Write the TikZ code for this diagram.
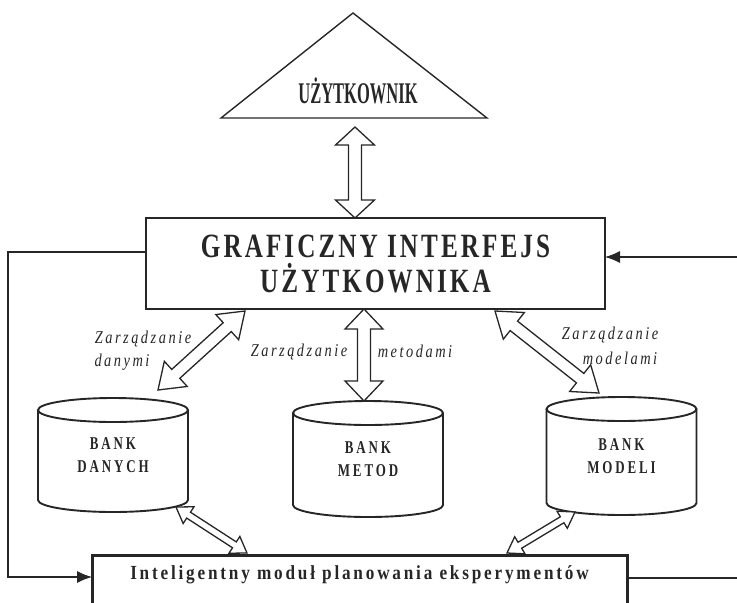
\documentclass[tikz,border=0pt]{standalone}
\usepackage{fontspec}
\setmainfont{Liberation Serif}
\newfontfamily\guifont[FakeStretch=0.74,LetterSpace=9]{Liberation Serif}
\newfontfamily\userfont[FakeStretch=0.55]{Liberation Serif}
\newfontfamily\bankfont[FakeStretch=0.72,LetterSpace=16]{Liberation Serif}
\newfontfamily\modfont[FakeStretch=0.86,LetterSpace=14]{Liberation Serif}
\newfontfamily\itfont[FakeStretch=0.8,LetterSpace=14]{Liberation Serif}
\usetikzlibrary{calc,arrows.meta}
\definecolor{ink}{HTML}{262626}
\newcommand{\cylshape}[1]{%
  \draw[cyl] (#1.north west) -- (#1.south west)
    arc[start angle=180,end angle=360,x radius=75pt,y radius=12pt] -- (#1.north east);
  \draw[cyl] (#1.north) ellipse[x radius=75pt,y radius=12pt];}
% #1 from, #2 to, #3 shaft half width, #4 head half width, #5 head length
\newcommand{\dbarrow}[5]{%
  \draw[blk] (#1) -- ($(#1)!#5!(#2)!#4!90:(#2)$) -- ($(#1)!#5!(#2)!#3!90:(#2)$)
    -- ($(#2)!#5!(#1)!#3!-90:(#1)$) -- ($(#2)!#5!(#1)!#4!-90:(#1)$) -- (#2)
    -- ($(#2)!#5!(#1)!#4!90:(#1)$) -- ($(#2)!#5!(#1)!#3!90:(#1)$)
    -- ($(#1)!#5!(#2)!#3!-90:(#2)$) -- ($(#1)!#5!(#2)!#4!-90:(#2)$) -- cycle;}
\begin{document}
\begin{tikzpicture}[x=1pt,y=-1pt,
  every node/.style={inner sep=0pt,outer sep=0pt,text=ink},
  boxline/.style={draw=ink,line width=1.4pt},
  cyl/.style={draw=ink,line width=1.9pt},
  blk/.style={draw=ink,line width=1.3pt,fill=white,line join=miter},
  conn/.style={draw=ink,line width=1.1pt},
  arr/.style={conn,-{Latex[length=15pt,width=12pt]}},
  bank/.style={minimum width=150pt,align=center,font=\bankfont\bfseries\fontsize{18}{23}\selectfont},
  lab/.style={font=\itfont\itshape\fontsize{18}{22}\selectfont}]
\useasboundingbox (0,0) rectangle (737,603);
% user triangle
\coordinate (tA) at (353,13);
\coordinate (tL) at (221,118);
\coordinate (tR) at (487,118);
\draw[boxline] (tA) -- (tR) -- (tL) -- cycle;
\node (user) at (358,91) {\userfont\bfseries\fontsize{30}{30}\selectfont UŻYTKOWNIK};
% GUI
\node[boxline,minimum width=459pt,minimum height=91pt,align=center,
  font=\guifont\bfseries\fontsize{34}{35}\selectfont] (gui) at (375.5,263.5)
  {GRAFICZNY INTERFEJS\\UŻYTKOWNIKA};
% banks
\node[bank,minimum height=90pt] (bd) at (113,455) {BANK\\DANYCH};
\node[bank,minimum height=92pt] (bm) at (368,459) {BANK\\METOD};
\node[bank,minimum height=94pt] (bo) at (621.5,456) {BANK\\MODELI};
\cylshape{bd}
\cylshape{bm}
\cylshape{bo}
% module
\node[draw=ink,line width=3pt,anchor=north,minimum width=535pt,text height=24pt,text depth=40pt,
  font=\modfont\bfseries\fontsize{20}{20}\selectfont] (mod) at (359.5,555)
  {Inteligentny moduł planowania eksperymentów};
% double arrows
\coordinate (a1) at (355,127);
\dbarrow{a1}{gui.north -| a1}{6.5pt}{19.5pt}{18pt}
\coordinate (m1) at (364,401);
\dbarrow{gui.south -| m1}{m1}{6.5pt}{19pt}{20pt}
\coordinate (d1) at (245,311);
\coordinate (d2) at (158,390);
\dbarrow{d1}{d2}{6pt}{17pt}{24pt}
\coordinate (d3) at (495,311);
\coordinate (d4) at (599,393);
\dbarrow{d3}{d4}{6pt}{17pt}{24pt}
\coordinate (e1) at (176,507);
\coordinate (e2) at (247,553);
\dbarrow{e1}{e2}{3.5pt}{10pt}{15pt}
\coordinate (e3) at (575,512);
\coordinate (e4) at (507,553);
\dbarrow{e3}{e4}{3.5pt}{10pt}{15pt}
% labels
\node[lab] (l1) at (143,339) {Zarządzanie};
\node[lab] (l2) at (122,362) {danymi};
\node[lab] (l3) at (299,352) {Zarządzanie};
\node[lab] (l4) at (415,351) {metodami};
\node[lab] (l5) at (610,335) {Zarządzanie};
\node[lab] (l6) at (620,358) {modelami};
% feedback lines
\coordinate (cl1) at (8,252);
\coordinate (cl2) at (8,577);
\draw[arr] (gui.west |- cl1) -- (cl1) -- (cl2) -- (cl2 -| mod.west);
\coordinate (cr1) at (737,257);
\coordinate (cr2) at (737,578);
\draw[arr] (cr1) -- (cr1 -| gui.east);
\draw[conn] (cr2 -| mod.east) -- (cr2);
\end{tikzpicture}
\end{document}
